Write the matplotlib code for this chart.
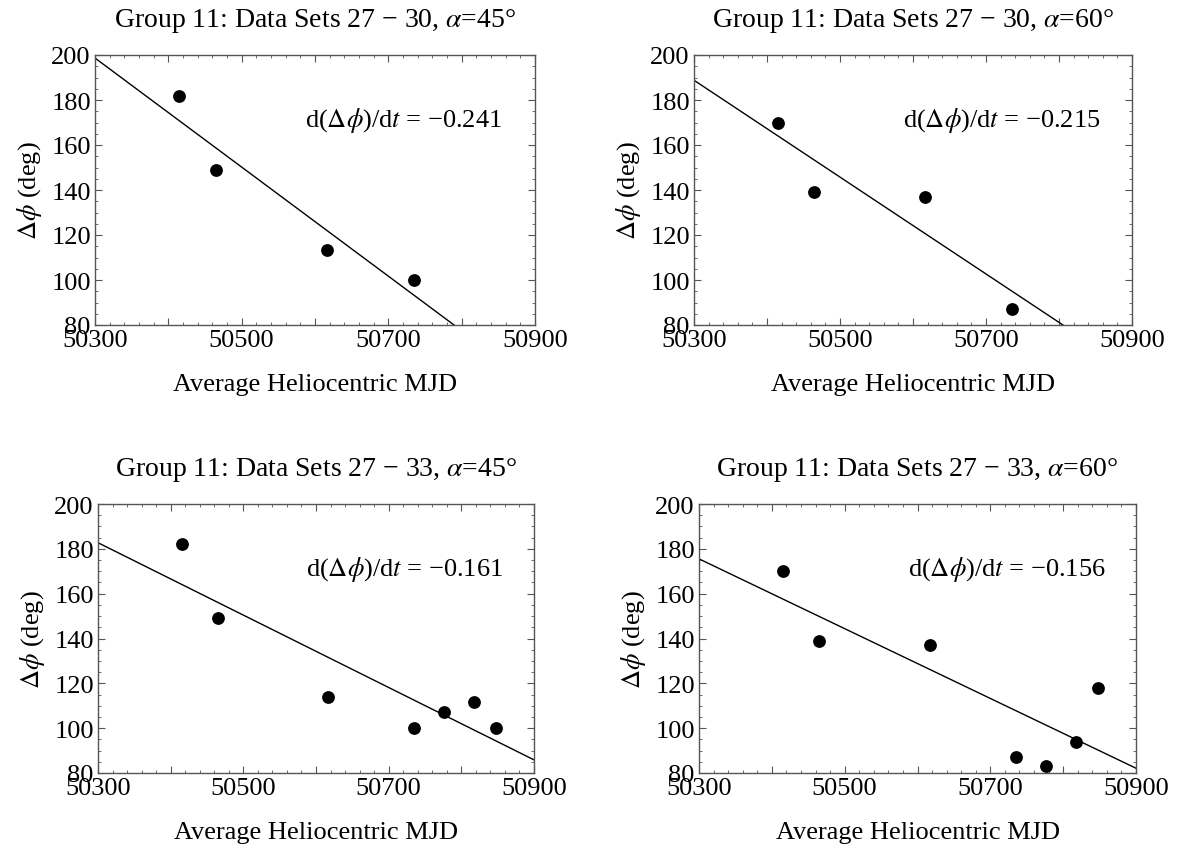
import numpy as np
import matplotlib
matplotlib.use("Agg")
import matplotlib.pyplot as plt
from matplotlib.ticker import MultipleLocator, FuncFormatter

plt.rcParams['font.family'] = ['Liberation Serif', 'DejaVu Serif']
plt.rcParams['mathtext.fontset'] = 'stix'

# ---- data ----
mjd_30 = [50415, 50465, 50617, 50735]
dphi_30_a45 = [182, 149, 113.5, 100]
dphi_30_a60 = [170, 139, 137, 87]

mjd_33 = [50415, 50465, 50617, 50735, 50776, 50818, 50848]
dphi_33_a45 = [182, 149, 114, 100, 107, 111.5, 100]
dphi_33_a60 = [170, 139, 137, 87, 83, 94, 118]

titles = ["Group 11: Data Sets 27 \u2212 30, $\\alpha$=45\u00b0",
          "Group 11: Data Sets 27 \u2212 30, $\\alpha$=60\u00b0",
          "Group 11: Data Sets 27 \u2212 33, $\\alpha$=45\u00b0",
          "Group 11: Data Sets 27 \u2212 33, $\\alpha$=60\u00b0"]
slope_labels = ["\u22120.241", "\u22120.215", "\u22120.161", "\u22120.156"]

xlim = (50300, 50900)
ylim = (80, 200)

W, H = 1180, 853
fig = plt.figure(figsize=(W / 100, H / 100), dpi=100)

def ax_rect(l, r, t, b):
    return [l / W, 1 - b / H, (r - l) / W, (b - t) / H]

rects = [ax_rect(95, 535, 56, 326), ax_rect(694, 1132, 56, 326),
         ax_rect(98, 534, 505, 774), ax_rect(699, 1136, 505, 774)]
panels = [(mjd_30, dphi_30_a45), (mjd_30, dphi_30_a60),
          (mjd_33, dphi_33_a45), (mjd_33, dphi_33_a60)]

frame_col = '#555555'
for i, (rect, (xs, ys)) in enumerate(zip(rects, panels)):
    ax = fig.add_axes(rect)
    xs = np.array(xs, float)
    ys = np.array(ys, float)
    m, c = np.polyfit(xs, ys, 1)
    lx = np.array(xlim, float)
    ax.plot(lx, m * lx + c, color='black', lw=1.0, zorder=2)
    ax.scatter(xs, ys, s=85, color='black', zorder=3, linewidths=0)
    ax.set_xlim(*xlim)
    ax.set_ylim(*ylim)
    ax.xaxis.set_major_locator(MultipleLocator(100))
    ax.xaxis.set_minor_locator(MultipleLocator(20))
    ax.yaxis.set_major_locator(MultipleLocator(20))
    ax.yaxis.set_minor_locator(MultipleLocator(5))
    ax.xaxis.set_major_formatter(FuncFormatter(
        lambda v, p: f"{int(round(v))}" if int(round(v)) % 200 == 100 else ""))
    ax.yaxis.set_major_formatter(FuncFormatter(lambda v, p: f"{int(round(v))}"))
    ax.tick_params(which='both', direction='in', top=True, right=True,
                   color=frame_col, labelsize=19, labelcolor='black')
    ax.tick_params(which='major', length=5, width=0.8, pad=3)
    ax.tick_params(which='minor', length=2.5, width=0.6)
    for sp in ax.spines.values():
        sp.set_color(frame_col)
        sp.set_linewidth(1.0)
    ax.set_title(titles[i], fontsize=20, pad=21)
    ax.set_xlabel("Average Heliocentric MJD", fontsize=19, labelpad=16)
    ax.set_ylabel("$\\Delta\\phi$ (deg)", fontsize=19, labelpad=5)
    ax.text(0.478, 0.76, "d($\\Delta\\phi$)/d$t$ = " + slope_labels[i],
            transform=ax.transAxes, fontsize=19, ha='left', va='center')

fig.savefig("out.png", dpi=100)
